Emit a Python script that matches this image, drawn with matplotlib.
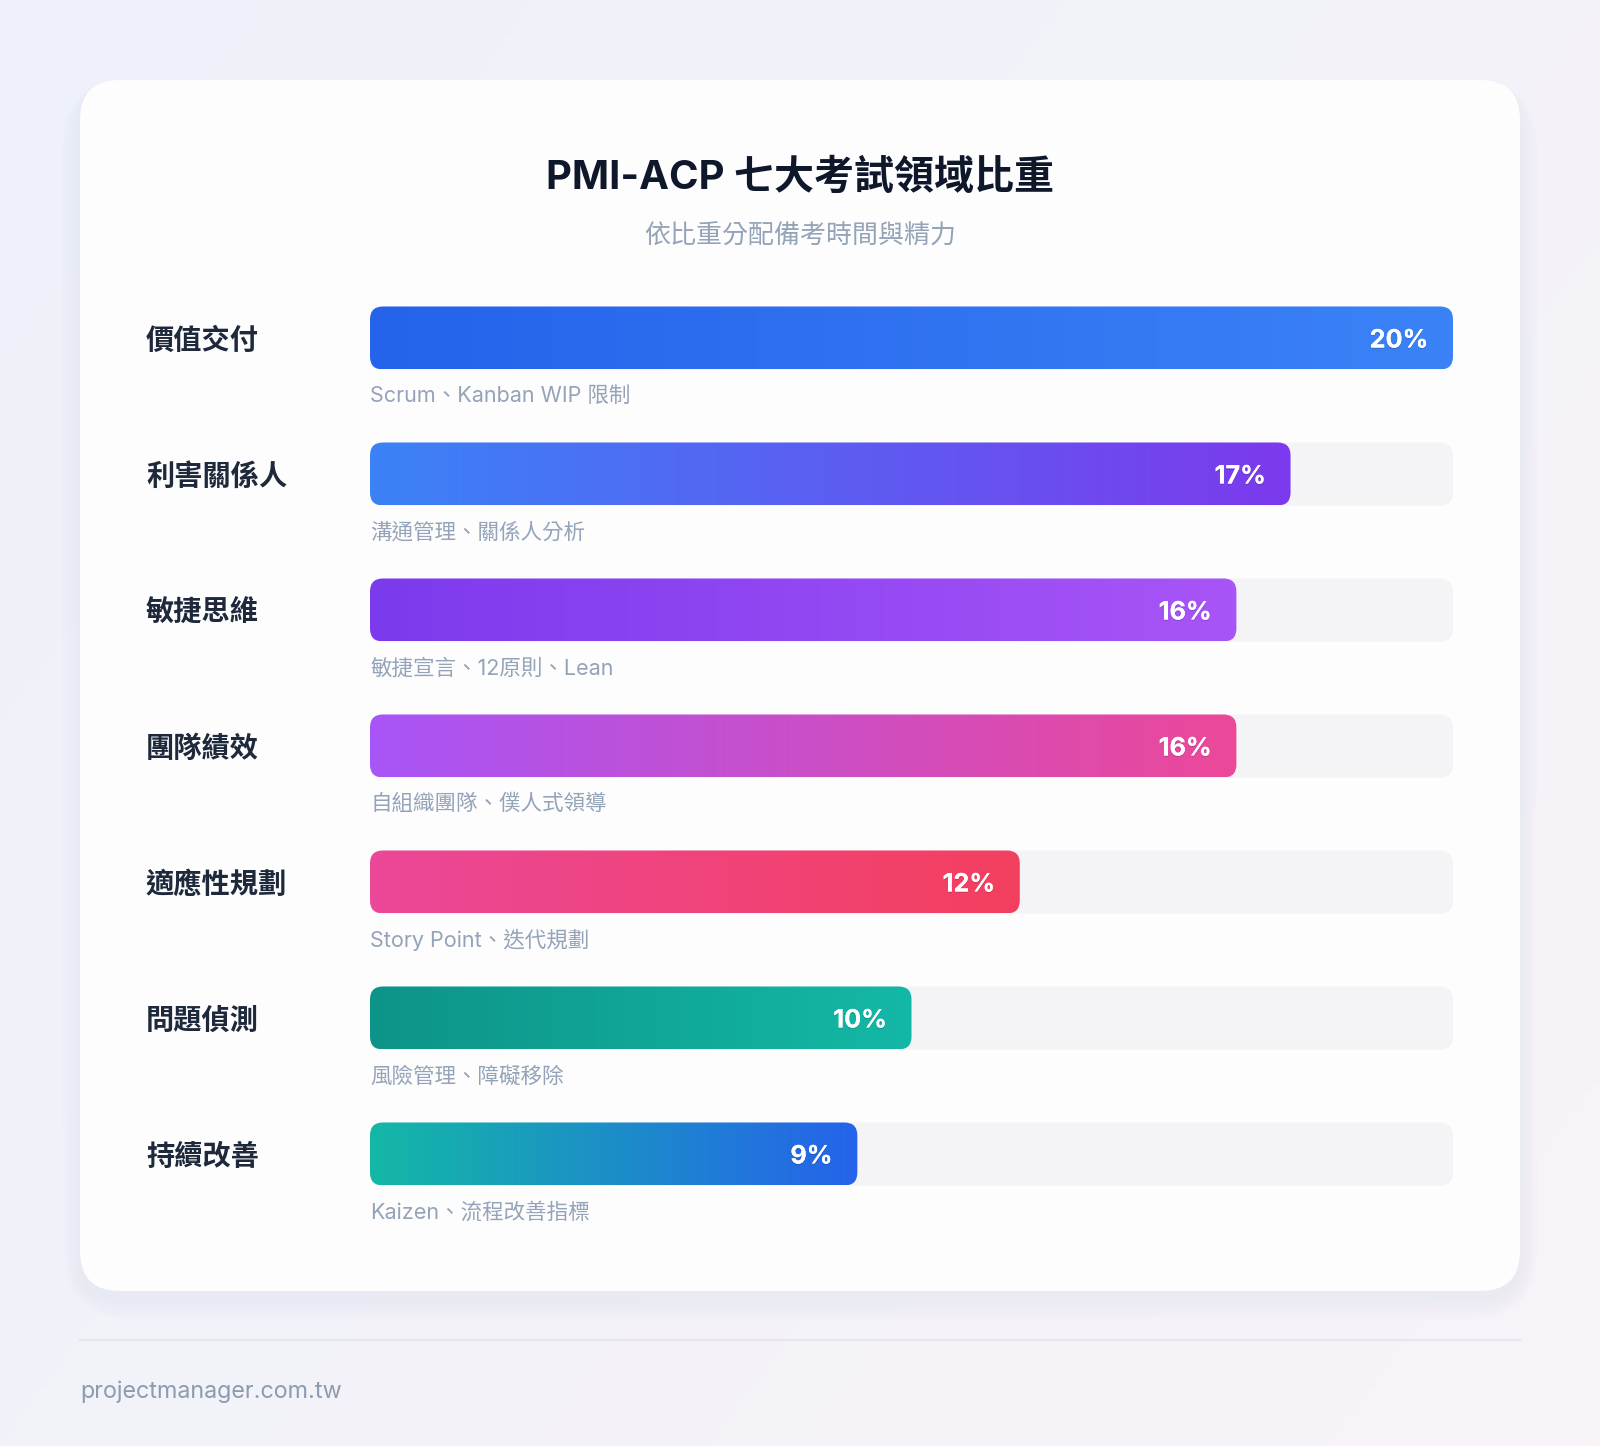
import numpy as np
import matplotlib
matplotlib.use("Agg")
import matplotlib.pyplot as plt
from matplotlib.patches import FancyBboxPatch
from matplotlib.colors import LinearSegmentedColormap, to_rgb
import matplotlib.patheffects as pe

# ---------------- data ----------------
categories = ["價值交付", "利害關係人", "敏捷思維", "團隊績效", "適應性規劃", "問題偵測", "持續改善"]
weights = [20, 17, 16, 16, 12, 10, 9]
descriptions = ["Scrum、Kanban WIP 限制", "溝通管理、關係人分析", "敏捷宣言、12原則、Lean",
                "自組織團隊、僕人式領導", "Story Point、迭代規劃", "風險管理、障礙移除", "Kaizen、流程改善指標"]
grad_start = ["#2563eb", "#3b82f6", "#7c3aed", "#a855f7", "#ec4899", "#0d9488", "#14b8a6"]
grad_end = ["#3b82f6", "#7c3aed", "#a855f7", "#ec4899", "#f43f5e", "#14b8a6", "#2563eb"]
title = "PMI-ACP 七大考試領域比重"
subtitle = "依比重分配備考時間與精力"
footer = "projectmanager.com.tw"
max_scale = 20

W, H = 1600, 1446
DPI = 100
FONT = ["Inter", "Noto Sans CJK TC", "DejaVu Sans"]
plt.rcParams["font.family"] = FONT

fig = plt.figure(figsize=(W / DPI, H / DPI), dpi=DPI)

# ---------------- background ----------------
bg = fig.add_axes([0, 0, 1, 1])
bg.set_xlim(0, W)
bg.set_ylim(H, 0)
bg.axis("off")
yy, xx = np.mgrid[0:1:200j, 0:1:200j]
c1 = np.array(to_rgb("#eef1fa"))
c2 = np.array(to_rgb("#f8f4f8"))
t = np.clip(0.6 * xx + 0.4 * yy, 0, 1)[..., None]
img = c1 * (1 - t) + c2 * t
bg.imshow(img, extent=(0, W, H, 0), aspect="auto", zorder=0)

# card shadow
cx0, cy0, cx1, cy1 = 80, 80, 1520, 1291
for i in range(6):
    g = 4 + i * 5
    sh = FancyBboxPatch((cx0 - g * 0.6, cy0 - g * 0.3 + 8), (cx1 - cx0) + g * 1.2, (cy1 - cy0) + g * 1.0,
                        boxstyle="round,pad=0,rounding_size=%f" % (40 + g), fc="#6b6f9a", ec="none",
                        alpha=0.009, zorder=1)
    bg.add_patch(sh)
card = FancyBboxPatch((cx0, cy0), cx1 - cx0, cy1 - cy0, boxstyle="round,pad=0,rounding_size=40",
                      fc="#fdfdfe", ec="none", zorder=2)
bg.add_patch(card)

# divider and footer
bg.plot([80, 1520], [1340, 1340], color="#e6e6ee", lw=1.5, zorder=2)
bg.text(80, 1392, footer, fontsize=16.8, color="#8d9bb0", ha="left", va="center", zorder=3)

# title
bg.text(800, 178, title, fontsize=28.8, fontweight="bold", color="#0f172a", ha="center", va="center", zorder=3)
bg.text(800, 237, subtitle, fontsize=18.7, color="#94a3b8", ha="center", va="center", zorder=3)

# ---------------- bars ----------------
row_px = 136
first_center = 338
n = len(categories)
ax_left, ax_right = 370, 1453
ax_top = first_center - row_px / 2
ax_bot = first_center + row_px * (n - 1) + row_px / 2
ax = fig.add_axes([ax_left / W, 1 - ax_bot / H, (ax_right - ax_left) / W, (ax_bot - ax_top) / H])
ax.set_xlim(0, max_scale)
ax.set_ylim(n - 0.5, -0.5)
ax.axis("off")
ax.patch.set_alpha(0)

px_per_x = (ax_right - ax_left) / max_scale
px_per_y = row_px
bar_h = 63 / row_px
r_px = 13
r_x = r_px / px_per_x
aspect = px_per_x / px_per_y
dy = 3 / row_px

for i, (cat, w, d, cs, ce) in enumerate(zip(categories, weights, descriptions, grad_start, grad_end)):
    # track
    track = FancyBboxPatch((0, i - bar_h / 2), max_scale, bar_h,
                           boxstyle="round,pad=0,rounding_size=%f" % r_x, mutation_aspect=aspect,
                           fc="#f4f3f6", ec="none", zorder=2)
    ax.add_patch(track)
    # gradient bar
    bar = FancyBboxPatch((0, i - bar_h / 2), w, bar_h,
                         boxstyle="round,pad=0,rounding_size=%f" % r_x, mutation_aspect=aspect,
                         fc="none", ec="none", zorder=3)
    ax.add_patch(bar)
    cmap = LinearSegmentedColormap.from_list("g%d" % i, [cs, ce])
    grad = np.linspace(0, 1, 256)[None, :]
    im = ax.imshow(grad, cmap=cmap, extent=(0, w, i + bar_h / 2, i - bar_h / 2),
                   aspect="auto", zorder=3, interpolation="bilinear")
    im.set_clip_path(bar)
    # value label
    ax.text(w - 25 / px_per_x, i + dy, f"{w}%", fontsize=18.2, fontweight="bold", color="white",
            ha="right", va="center", zorder=5,
            path_effects=[pe.withSimplePatchShadow(offset=(0, -1), shadow_rgbFace="#000000", alpha=0.12),
                          pe.Normal()])
    # category label
    ax.text((146 - ax_left) / px_per_x, i + dy, cat, fontsize=20.3, fontweight="bold", color="#1e293b",
            ha="left", va="center", zorder=5, clip_on=False)
    # description
    ax.text(0, i + 58 / row_px, d, fontsize=15.5, color="#94a3b8", ha="left", va="center",
            zorder=5, clip_on=False)

ax.set_xlim(0, max_scale)
ax.set_ylim(n - 0.5, -0.5)

fig.savefig("out.png", dpi=DPI)
